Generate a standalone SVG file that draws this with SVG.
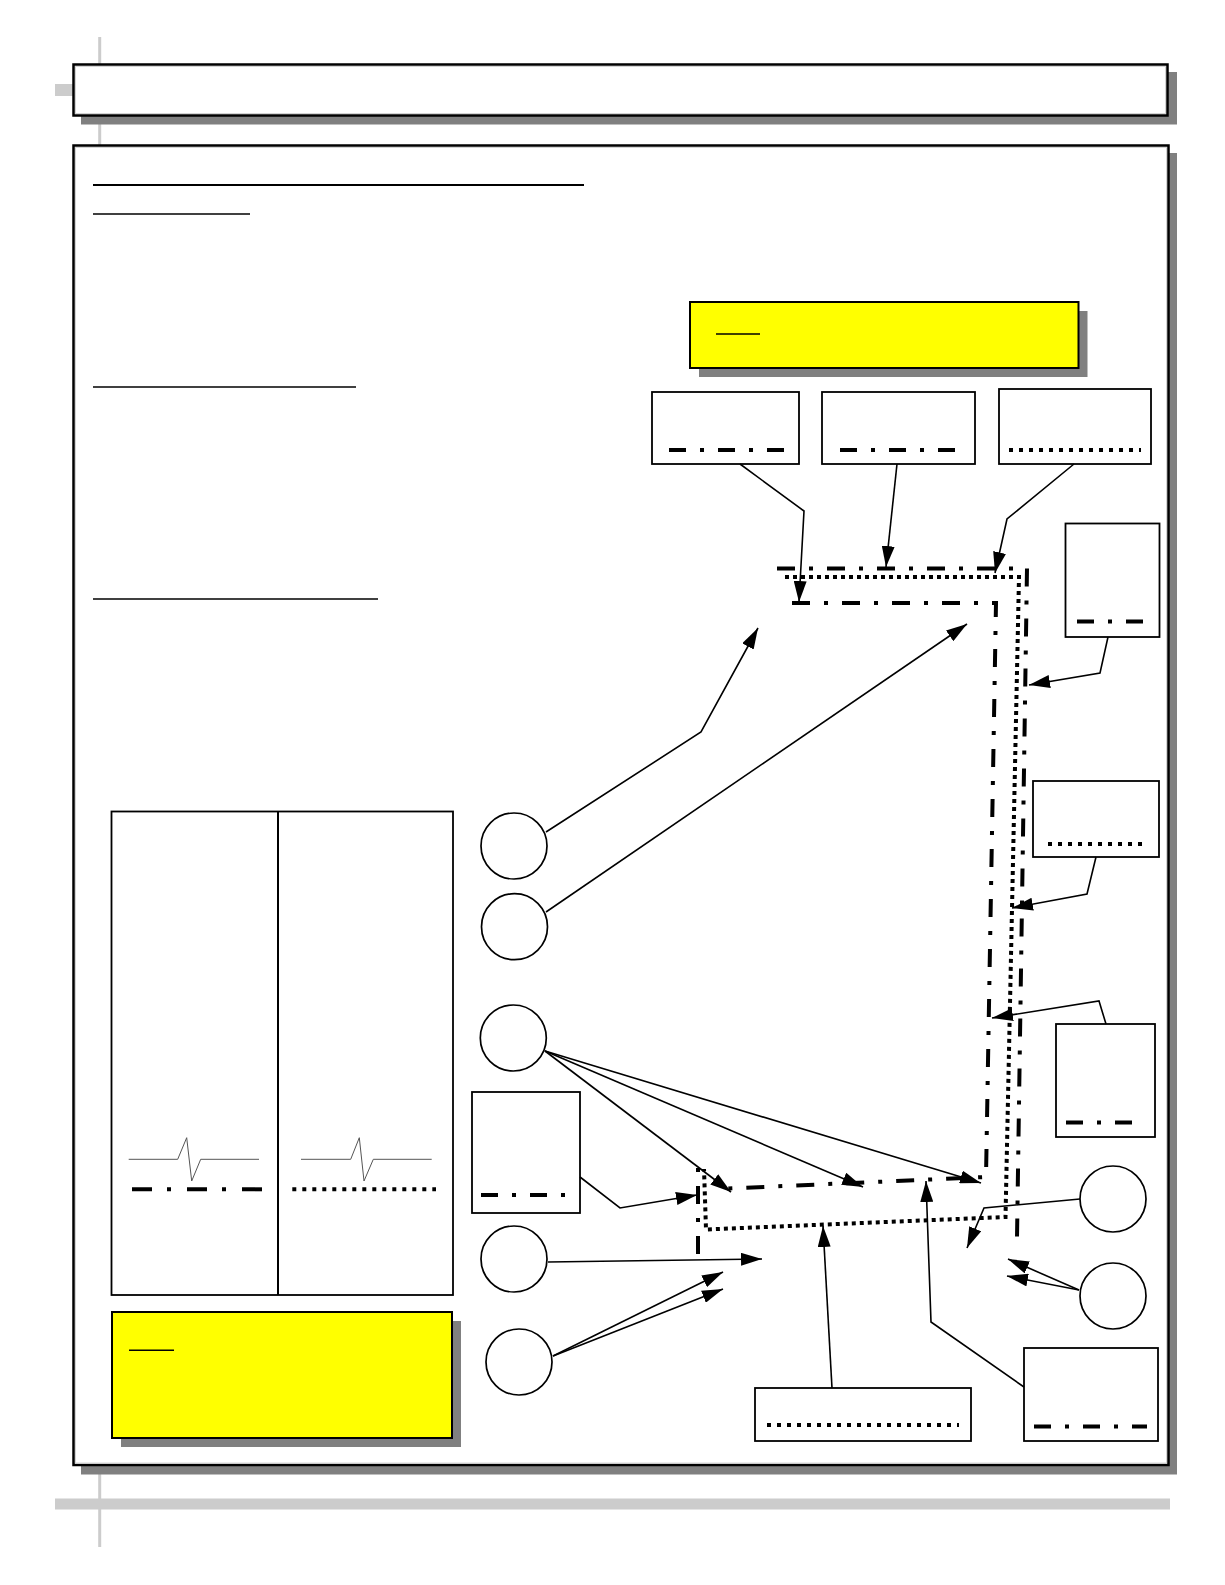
<svg xmlns="http://www.w3.org/2000/svg" width="1225" height="1585" viewBox="0 0 1225 1585">
  <style>
    .guide{fill:#cccccc}
    .shadow{fill:#808080}
    .frame{fill:#ffffff;stroke:#000;stroke-width:2.5}
    .inner{fill:none;stroke:#d4d4d4;stroke-width:1}
    .yellow{fill:#ffff00;stroke:#000;stroke-width:2}
    .box{fill:#ffffff;stroke:#000;stroke-width:1.8}
    .circ{fill:#ffffff;stroke:#000;stroke-width:1.7}
    .uline{stroke:#000;fill:none}
    .conn{fill:none;stroke:#000;stroke-width:1.6;marker-end:url(#ah)}
    .dd{fill:none;stroke:#000;stroke-width:4;stroke-dasharray:18 14 4 14}
    .ddl{fill:none;stroke:#000;stroke-width:4;stroke-dasharray:17 14 4 14}
    .ddw{fill:none;stroke:#000;stroke-width:4;stroke-dasharray:20 15 4 16}
    .dot{fill:none;stroke:#000;stroke-width:4;stroke-dasharray:4 4}
    .dotl{fill:none;stroke:#000;stroke-width:4;stroke-dasharray:4 6}
    .wave{fill:none;stroke:#555;stroke-width:1}
  </style>
  <defs>
    <marker id="ah" markerUnits="userSpaceOnUse" markerWidth="21" markerHeight="13" refX="21" refY="6.5" orient="auto">
      <path d="M0,0 L21,6.5 L0,13 z" fill="#000"/>
    </marker>
  </defs>
  <rect width="1225" height="1585" fill="#ffffff"/>

  <g id="page-guides">
    <rect class="guide" x="98.2" y="37" width="3" height="1510"/>
    <rect class="guide" x="55" y="84" width="18" height="12"/>
    <rect class="guide" x="55" y="1498.5" width="1115" height="11"/>
  </g>

  <g id="header">
    <rect class="shadow" x="81" y="72" width="1096" height="52.5"/>
    <rect class="frame" x="73.5" y="64.5" width="1094" height="51"/>
    <rect class="inner" x="75.5" y="66.5" width="1090" height="47"/>
  </g>

  <g id="main-frame">
    <rect class="shadow" x="81" y="153" width="1096" height="1321.5"/>
    <rect class="frame" x="73.5" y="145.5" width="1095" height="1319.5"/>
    <rect class="inner" x="75.5" y="147.5" width="1091" height="1315.5"/>
  </g>

  <g id="headings">
    <line class="uline" x1="93" y1="185" x2="584" y2="185" stroke-width="2"/>
    <line class="uline" x1="93" y1="214" x2="250" y2="214" stroke-width="1.4"/>
    <line class="uline" x1="93" y1="387" x2="356" y2="387" stroke-width="1.4"/>
    <line class="uline" x1="93" y1="599" x2="378" y2="599" stroke-width="1.4"/>
  </g>

  <g id="note-top">
    <rect class="shadow" x="699" y="311" width="388.5" height="66"/>
    <rect class="yellow" x="690" y="302" width="388.5" height="66"/>
    <line class="uline" x1="716" y1="334" x2="760" y2="334" stroke-width="1.4"/>
  </g>

  <g id="box-a">
    <rect class="box" x="652" y="392" width="147" height="72"/>
    <line class="ddl" x1="669" y1="450" x2="786" y2="450"/>
  </g>
  <g id="box-b">
    <rect class="box" x="822" y="392" width="153" height="72"/>
    <line class="ddl" x1="840" y1="450" x2="957" y2="450"/>
  </g>
  <g id="box-c">
    <rect class="box" x="999" y="389" width="152" height="75"/>
    <line class="dotl" x1="1009" y1="450" x2="1141" y2="450"/>
  </g>
  <g id="box-g">
    <rect class="box" x="1065.5" y="523.5" width="94" height="113.5"/>
    <line class="ddl" x1="1077" y1="621.5" x2="1144" y2="621.5"/>
  </g>
  <g id="box-h">
    <rect class="box" x="1033" y="781" width="126" height="76"/>
    <line class="dotl" x1="1048" y1="844" x2="1147" y2="844"/>
  </g>
  <g id="box-i">
    <rect class="box" x="1056" y="1024" width="99" height="113"/>
    <line class="ddl" x1="1066" y1="1122.5" x2="1133" y2="1122.5"/>
  </g>
  <g id="box-d">
    <rect class="box" x="472" y="1092" width="108" height="121"/>
    <line class="ddl" x1="481" y1="1195" x2="567" y2="1195"/>
  </g>
  <g id="box-e">
    <rect class="box" x="755" y="1388" width="216" height="53"/>
    <line class="dotl" x1="767" y1="1425" x2="959" y2="1425"/>
  </g>
  <g id="box-f">
    <rect class="box" x="1024" y="1348" width="134" height="93"/>
    <line class="ddl" x1="1034" y1="1426.5" x2="1147" y2="1426.5"/>
  </g>

  <g id="legend-panel">
    <rect class="box" x="111.5" y="811.5" width="341.5" height="483.5" stroke-width="1.5"/>
    <line x1="278" y1="811.5" x2="278" y2="1295" stroke="#000" stroke-width="2"/>
    <polyline class="wave" points="128.7,1159.3 177.7,1159.3 186.7,1137.7 191.7,1181 200.7,1159.3 259,1159.3"/>
    <polyline class="wave" points="301,1159.3 350.7,1159.3 359.3,1137.7 364,1181 373.3,1159.3 431.7,1159.3"/>
    <line class="ddw" x1="132" y1="1189.3" x2="262" y2="1189.3"/>
    <line class="dotl" x1="292.3" y1="1189.3" x2="436" y2="1189.3"/>
  </g>

  <g id="note-bottom">
    <rect class="shadow" x="121" y="1321" width="340" height="126"/>
    <rect class="yellow" x="112" y="1312" width="340" height="126"/>
    <line class="uline" x1="129" y1="1350.3" x2="174" y2="1350.3" stroke-width="1.4"/>
  </g>

  <g id="circle-1"><circle class="circ" cx="514" cy="846" r="33"/></g>
  <g id="circle-2"><circle class="circ" cx="514.5" cy="926.7" r="33"/></g>
  <g id="circle-3"><circle class="circ" cx="513.3" cy="1038" r="33"/></g>
  <g id="circle-4"><circle class="circ" cx="514" cy="1259" r="33"/></g>
  <g id="circle-5"><circle class="circ" cx="519" cy="1362" r="33"/></g>
  <g id="circle-6"><circle class="circ" cx="1113" cy="1199" r="33"/></g>
  <g id="circle-7"><circle class="circ" cx="1113" cy="1296" r="33"/></g>

  <g id="routes">
    <polyline class="dd" points="777,568.5 1027,568.5 1017,1238"/>
    <line class="dd" x1="698" y1="1168" x2="698" y2="1254" style="stroke-dasharray:4 14 18 14"/>
    <polyline class="dot" points="785,577 1019,577 1005.5,1217 706,1229.5 704,1169"/>
    <polyline class="dd" points="792,603 996,603 986,1177 717,1189"/>
  </g>

  <g id="connectors">
    <polyline class="conn" points="740,464 804,511 799,602"/>
    <polyline class="conn" points="897,464 886,567"/>
    <polyline class="conn" points="1074,464 1007,519 995,573"/>
    <polyline class="conn" points="1108,637 1100,673 1029,685"/>
    <polyline class="conn" points="1096,857 1087,894 1012,908"/>
    <polyline class="conn" points="1106,1024 1099,1001 992,1018"/>
    <polyline class="conn" points="580,1177 620,1208 697,1195"/>
    <polyline class="conn" points="832,1388 823,1226"/>
    <polyline class="conn" points="1024,1387 931,1322 926,1181"/>
    <polyline class="conn" points="546,832 701,732 758,628"/>
    <polyline class="conn" points="546,912 967,624"/>
    <polyline class="conn" points="545,1051 731,1192"/>
    <polyline class="conn" points="545,1051 863,1187"/>
    <polyline class="conn" points="545,1051 981,1183"/>
    <polyline class="conn" points="548,1262 762,1259"/>
    <polyline class="conn" points="553,1356 723,1272"/>
    <polyline class="conn" points="553,1356 723,1289"/>
    <polyline class="conn" points="1080,1199 984,1208 967,1248"/>
    <polyline class="conn" points="1079,1290 1008,1259"/>
    <polyline class="conn" points="1079,1290 1007,1276"/>
  </g>
</svg>
